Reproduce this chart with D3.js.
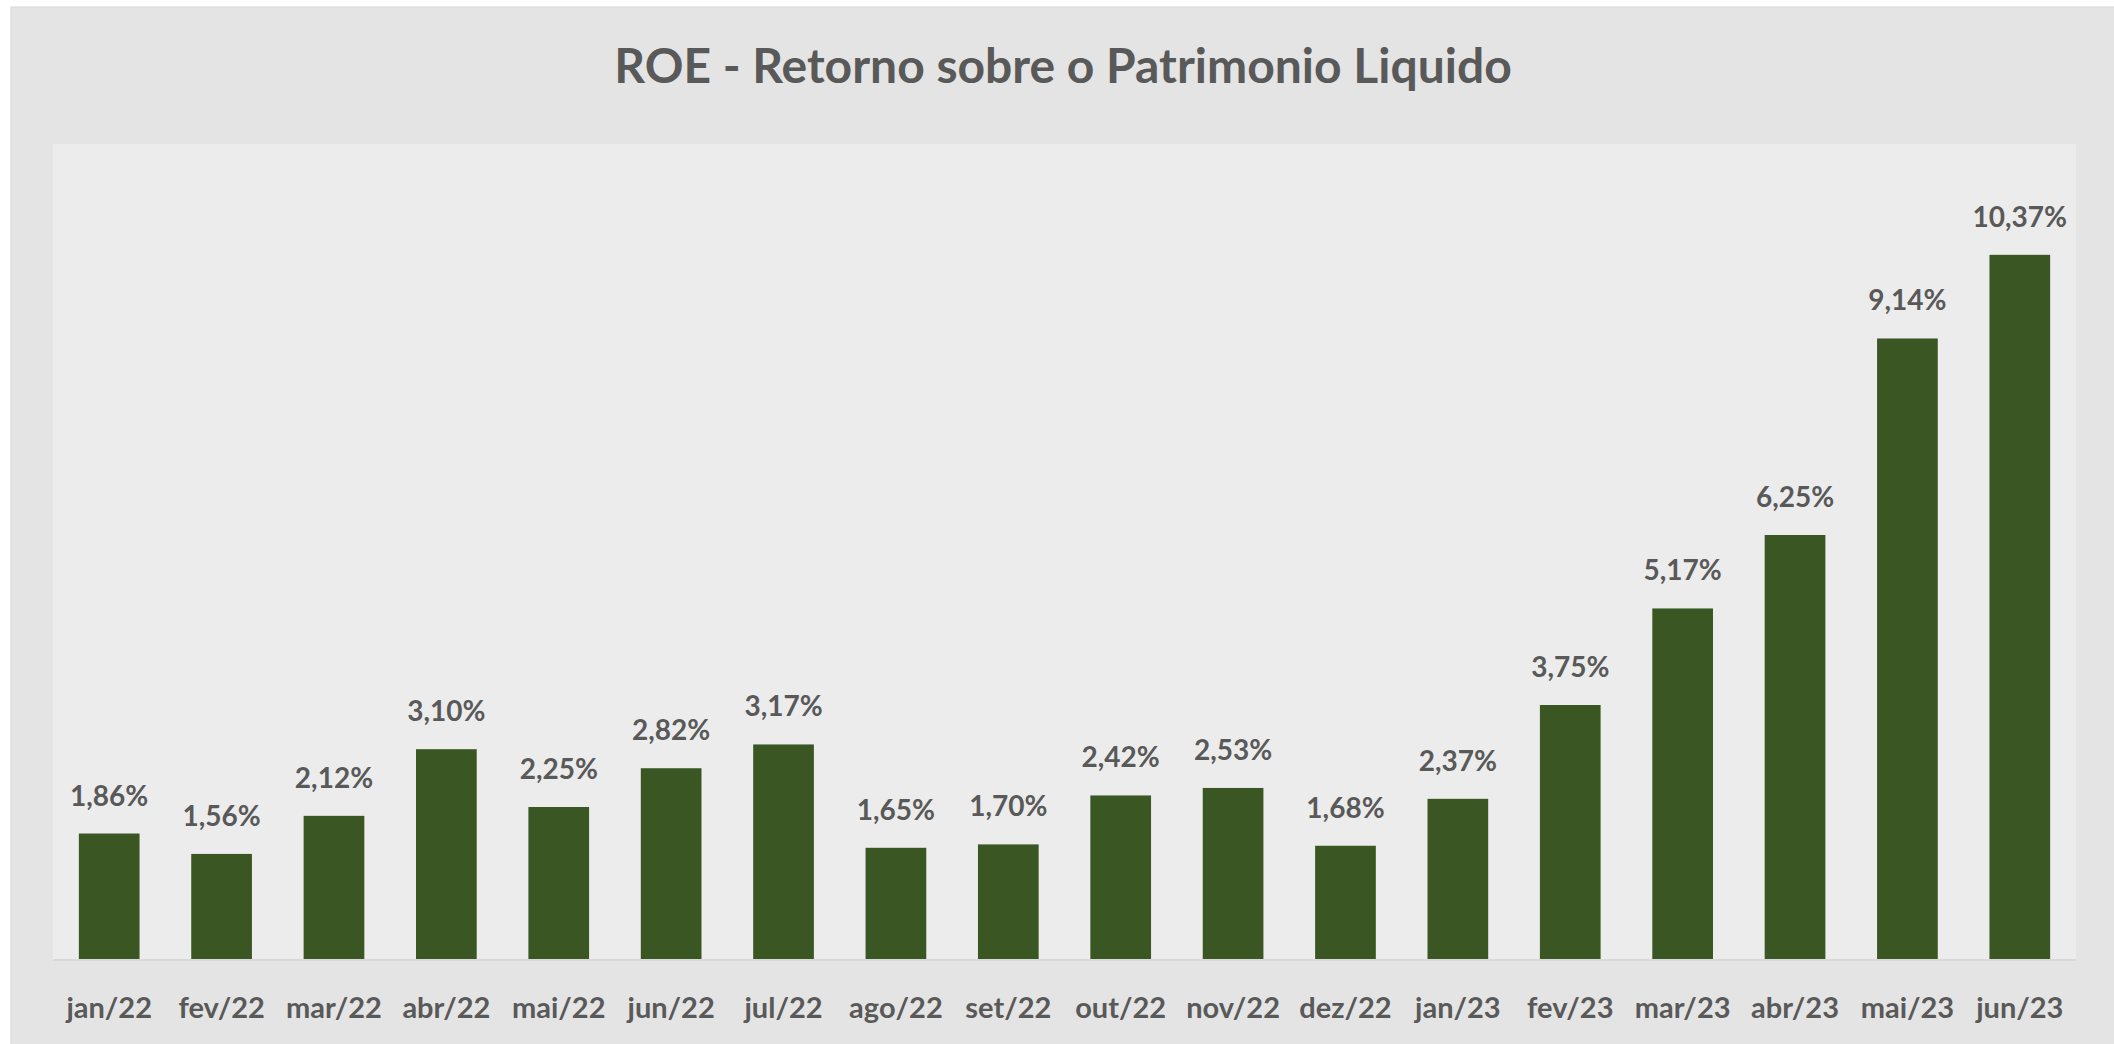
<html>
<head>
    <meta charset="utf-8">
    <style>
        body { margin: 0; background: #ffffff; }
        text { font-family: Lato, "Open Sans", sans-serif; }
    </style>
</head>
<body>
    <svg id="container" width="2114" height="1044"></svg>
</body>
<script src="https://cdn.jsdelivr.net/npm/d3@7"></script>
<script>
    // chart data
    let months = ["jan/22", "fev/22", "mar/22", "abr/22", "mai/22", "jun/22", "jul/22", "ago/22", "set/22",
                  "out/22", "nov/22", "dez/22", "jan/23", "fev/23", "mar/23", "abr/23", "mai/23", "jun/23"]
    let roe = [1.86, 1.56, 2.12, 3.10, 2.25, 2.82, 3.17, 1.65, 1.70,
               2.42, 2.53, 1.68, 2.37, 3.75, 5.17, 6.25, 9.14, 10.37]
    let title = "ROE - Retorno sobre o Patrimonio Liquido"

    let svg = d3.select("#container")

    // outer chart frame
    svg.append("rect")
        .attr("x", 11).attr("y", 7)
        .attr("width", 2114).attr("height", 1044)
        .attr("fill", "#e4e4e4")
        .attr("stroke", "#d6d6d6")

    let plot = { left: 53, top: 144, right: 2076, bottom: 960 }

    // plot area
    svg.append("rect")
        .attr("x", plot.left).attr("y", plot.top)
        .attr("width", plot.right - plot.left).attr("height", plot.bottom - plot.top)
        .attr("fill", "#ececec")

    svg.append("text")
        .attr("x", 1063).attr("y", 83)
        .attr("text-anchor", "middle")
        .attr("font-size", 48)
        .attr("font-weight", "bold")
        .attr("fill", "#595959")
        .text(title)

    let x = d3.scaleBand()
        .domain(months)
        .range([plot.left, plot.right])
        .paddingInner(0.46)
        .paddingOuter(0.23)

    let y = d3.scaleLinear()
        .domain([0, 12])
        .range([plot.bottom, plot.top])

    svg.selectAll("rect.bar")
        .data(roe)
        .enter().append("rect")
        .attr("class", "bar")
        .attr("x", (d, i) => x(months[i]))
        .attr("y", d => y(d))
        .attr("width", x.bandwidth())
        .attr("height", d => y(0) - y(d))
        .attr("fill", "#3a5622")

    // baseline
    svg.append("line")
        .attr("x1", plot.left).attr("x2", plot.right)
        .attr("y1", y(0)).attr("y2", y(0))
        .attr("stroke", "#d9d9d9")
        .attr("stroke-width", 2)

    svg.selectAll("text.label")
        .data(roe)
        .enter().append("text")
        .attr("class", "label")
        .attr("x", (d, i) => x(months[i]) + x.bandwidth() / 2)
        .attr("y", d => y(d) - 28)
        .attr("text-anchor", "middle")
        .attr("font-size", 28)
        .attr("font-weight", "bold")
        .attr("fill", "#595959")
        .text(d => d.toFixed(2).replace(".", ",") + "%")

    let xAxis = svg.append("g")
        .attr("transform", `translate(0,${plot.bottom})`)
        .call(d3.axisBottom(x).tickSize(0).tickPadding(37))
    xAxis.select(".domain").remove()
    xAxis.selectAll("text")
        .attr("font-family", "Lato, sans-serif")
        .attr("font-size", 29)
        .attr("font-weight", "bold")
        .attr("fill", "#595959")
</script>
</html>
